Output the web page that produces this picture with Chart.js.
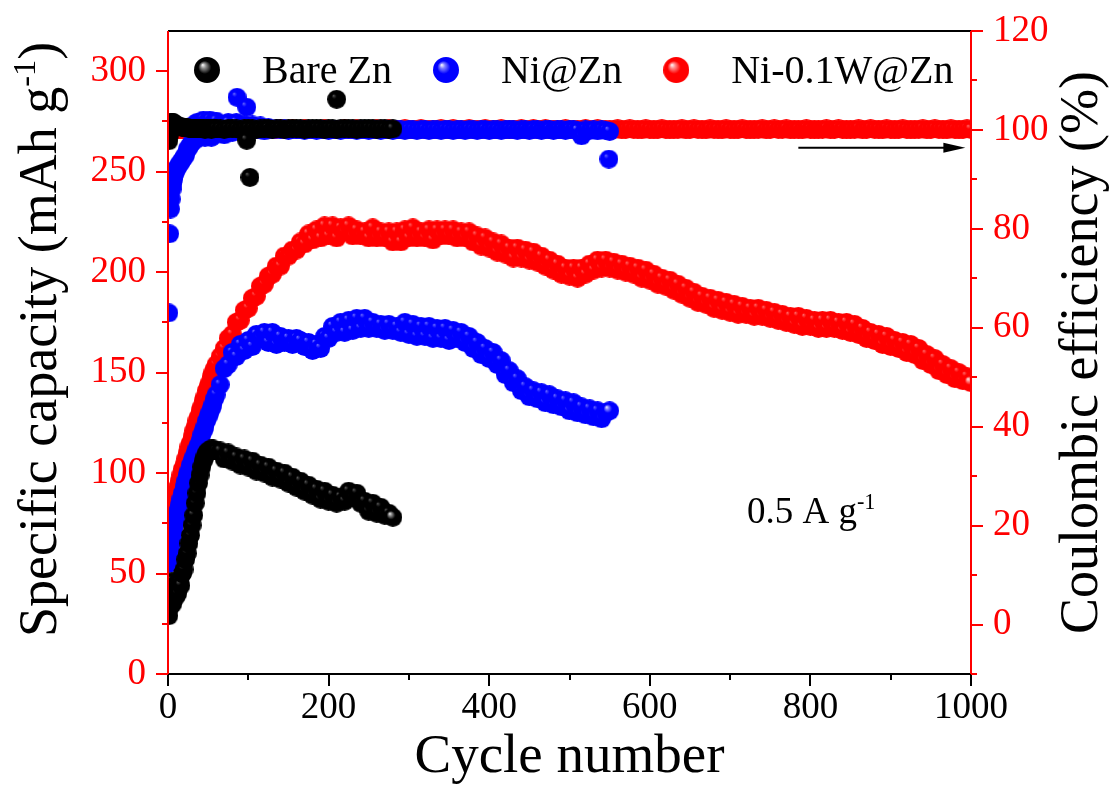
<!DOCTYPE html>
<html>
<head>
<meta charset="utf-8">
<script src="https://cdn.jsdelivr.net/npm/chart.js@4.4.0/dist/chart.umd.min.js"></script>
<style>
  html, body { margin: 0; padding: 0; background: #fff; }
</style>
</head>
<body>
<canvas id="chart" width="1112" height="794"></canvas>
<script>
// ------------------ Data ------------------
const seriesNames = ["Bare Zn", "Ni@Zn", "Ni-0.1W@Zn"];

// shared cycle grid (denser at the start where the curves climb)
const cycles = [
  1,2,3,4,5,6,7,8,9,10,
  12,14,16,18,20,22,24,26,28,30,32,34,36,38,40,42,44,46,48,50,52,54,56,58,60,
  65,70,75,80,85,90,95,100,105,110,115,120,125,130,135,140,145,150,155,160,
  165,170,175,180,185,190,195,200,205,210,215,220,225,230,235,240,245,250,255,260,
  265,270,275,280,285,290,295,300,305,310,315,320,325,330,335,340,345,350,355,360,
  365,370,375,380,385,390,395,400,405,410,415,420,425,430,435,440,445,450,455,460,
  465,470,475,480,485,490,495,500,505,510,515,520,525,530,535,540,545,550,555,560,
  565,570,575,580,585,590,595,600,605,610,615,620,625,630,635,640,645,650,655,660,
  665,670,675,680,685,690,695,700,705,710,715,720,725,730,735,740,745,750,755,760,
  765,770,775,780,785,790,795,800,805,810,815,820,825,830,835,840,845,850,855,860,
  865,870,875,880,885,890,895,900,905,910,915,920,925,930,935,940,945,950,955,960,
  965,970,975,980,985,990,995,1000
];

// specific capacity, mAh g-1 (left axis)
const bareCap = [
  29,33,38,42,46,35,40,44,38,42,
  40,46,44,50,52,57,60,65,69,74,79,85,90,95,99,103,106,108,110,111,111,112,112,111,111,
  111,107,110,106,108,104,107,103,106,101,104,100,103,98,101,97,100,95,98,93,
  96,91,94,89,92,87,91,86,89,85,88,86,91,88,90,85,86,81,85,80,
  83,79,80,78
];
const niCap = [
  55,58,61,64,67,70,72,74,76,78,
  81,84,87,90,93,96,99,101,104,106,108,110,112,114,116,119,121,123,126,128,130,132,134,137,139,
  144,152,154,160,158,164,161,166,163,169,167,170,165,170,164,168,165,167,164,167,
  166,163,165,161,164,162,168,167,173,170,175,170,176,171,177,172,177,172,175,172,
  174,171,174,171,173,170,175,169,174,168,173,168,173,167,172,167,172,166,171,167,
  170,165,168,162,165,159,162,157,160,154,156,149,151,145,147,141,143,138,141,137,
  140,135,139,134,137,133,136,131,135,130,133,129,132,128,131,127,130,131
];
const niWCap = [
  76,78,79,81,82,84,85,87,88,90,
  93,96,99,102,104,107,110,113,115,118,121,123,126,128,131,133,136,138,141,143,145,148,150,152,154,
  158,162,167,169,175,176,181,182,187,188,193,194,198,199,203,203,208,208,211,211,
  215,214,219,216,221,217,223,218,223,217,222,220,223,218,221,218,220,217,222,217,
  220,217,220,215,220,215,221,217,222,217,220,217,221,216,221,218,221,218,221,217,
  220,217,220,215,218,213,217,212,215,210,214,209,212,207,212,207,211,206,210,205,
  208,203,206,201,204,199,202,198,202,197,202,199,204,201,206,202,206,202,205,201,
  204,200,203,199,202,197,201,196,199,194,197,193,196,191,194,189,192,187,190,185,
  188,184,187,182,186,181,185,180,184,179,183,179,182,178,182,178,181,177,180,176,
  179,175,178,174,178,173,177,173,176,172,176,172,176,172,175,171,175,170,174,169,
  172,167,170,166,169,164,168,163,166,162,165,160,164,159,162,156,159,154,157,151,
  154,149,152,147,150,146,148,145
];

// coulombic efficiency, % (right axis)
const bareCE = [
  97.8,99,100.5,101.5,101.6,101.5,101.3,101.2,101,101,
  100.8,100.7,100.6,100.5,100.5,100.4,100.4,100.3,100.3,100.3,100.2,100.2,100.2,100.2,100.2,100.3,100.2,100.1,100.2,100.3,100.2,100.1,100.2,100.2,100.2,
  100.2,100.1,100.3,100.2,100.2,100.1,100.2,100.3,100.2,100.1,100.2,100.2,100.3,100.1,100.2,100.2,100.1,100.2,100.3,100.2,
  100.2,100.1,100.2,100.2,100.3,100.2,100.1,100.2,100.2,100.1,100.2,100.3,100.2,100.2,100.1,100.2,100.2,100.3,100.2,100.1,
  100.2,100.2,100.1,100.2
];
const niCE = [
  63,79,84,86,88,89,90,91,91.5,92,
  92.5,93,93.5,94,94.5,95,96,96.5,97,97.5,101,98,101.5,98.5,101.5,99,102,98.5,101.5,99,102,98.5,101.5,99,101.8,
  101,99,101.5,99.5,101.5,100,101,99.5,101,100,100.8,99.8,100.5,100,100.3,100,100.2,99.9,100.1,100,
  100,99.9,100.1,100,99.9,100,100.1,99.9,100,100,99.9,100,100.1,100,99.9,100,100,99.9,100.1,100,
  99.9,100,100.1,99.9,100,100,99.9,100.1,100,99.9,100,100.1,99.9,100,100,99.9,100.1,100,99.9,100,
  100,99.9,100.1,100,99.9,100,100.1,99.9,100,100,99.9,100,100.1,100,99.9,100,100,99.9,100.1,100,
  99.9,100,100.1,99.9,100,100,99.9,100.1,100,99.9,98.8,100,99.9,100,99.8,100,99.9,99.7
];
const niWCE = [
  99.8,100,100.1,100.2,100.1,100,100.1,100.2,100.1,100,
  100.1,100,100.2,100.1,100,100.1,100.2,100.1,100,100.1,100.2,100.1,100,100.1,100.2,100.1,100,100.1,100.2,100.1,100,100.1,100.2,100.1,100,
  100.1,100,100.2,100.1,100.1,100,100.2,100.1,100,100.1,100.2,100.1,100,100.1,100.1,100.2,100,100.1,100.2,100.1,
  100.1,100.2,100,100.1,100.1,100,100.2,100.1,100,100.1,100.1,100.2,100,100.1,100.2,100.1,100,100.1,100.1,100.2,
  100,100.1,100.2,100.1,100.1,100,100.2,100.1,100,100.1,100.2,100.1,100,100.1,100.1,100.2,100,100.1,100.2,100.1,
  100.1,100,100.2,100.1,100.1,100,100.2,100.1,100,100.1,100.2,100.1,100,100.1,100.1,100.2,100,100.1,100.2,100.1,
  100.1,100.2,100,100.1,100.1,100,100.2,100.1,100,100.1,100.1,100.2,100,100.1,100.2,100.1,100,100.1,100.1,100.2,
  100,100.1,100.2,100.1,100.1,100,100.2,100.1,100,100.1,100.2,100.1,100,100.1,100.1,100.2,100,100.1,100.2,100.1,
  100.1,100,100.2,100.1,100.1,100,100.2,100.1,100,100.1,100.2,100.1,100,100.1,100.1,100.2,100,100.1,100.2,100.1,
  100.1,100.2,100,100.1,100.1,100,100.2,100.1,100,100.1,100.1,100.2,100,100.1,100.2,100.1,100,100.1,100.1,100.2,
  100,100.1,100.2,100.1,100.1,100,100.2,100.1,100,100.1,100.2,100.1,100,100.1,100.1,100.2,100,100.1,100.2,100.1,
  100.1,100,100.2,100.1,100,100.1,100.2,100.1
];

// stray efficiency points
const bareOutCycles = [98, 102, 210];
const bareOutCE = [97.9, 90.4, 106.2];
const niOutCycles = [86, 98, 549];
const niOutCE = [106.6, 104.6, 94.1];

// annotation: arrow toward the right axis, current density label
const arrowCycles = [785, 993];
const arrowCE = 96.4;
const rateCycle = 721;
const rateCap = 75;

// ------------------ Helpers ------------------
const FONT = "'Liberation Serif', 'Times New Roman', serif";
const RED = "#ff0000";
Chart.defaults.font.family = FONT;

// shaded sphere used as point style
function makeBall(body, mid, hi, d, spot) {
  const c = document.createElement("canvas");
  c.width = d; c.height = d;
  const g = c.getContext("2d");
  const r = d / 2;
  const grad = g.createRadialGradient(r * 0.66, r * 0.6, 0, r, r, r);
  grad.addColorStop(0, hi);
  grad.addColorStop(spot * 0.4, mid);
  grad.addColorStop(spot, body);
  grad.addColorStop(1, body);
  g.fillStyle = grad;
  g.beginPath();
  g.arc(r, r, r, 0, Math.PI * 2);
  g.fill();
  return c;
}

// dull balls for the dense bands, bright ones for the last point and legend
const balls = [
  makeBall("#000000", "#303030", "#707070", 19, 0.26),
  makeBall("#0000ff", "#3c3cff", "#8080ff", 19, 0.26),
  makeBall("#ff0000", "#ff3c3c", "#ff8080", 19, 0.26)
];
const endBalls = [
  makeBall("#000000", "#8a8a8a", "#ffffff", 19, 0.45),
  makeBall("#0000ff", "#8080ff", "#ffffff", 19, 0.45),
  makeBall("#ff0000", "#ff8a8a", "#ffffff", 19, 0.45)
];
const legendBalls = [
  makeBall("#000000", "#8a8a8a", "#ffffff", 26, 0.5),
  makeBall("#0000ff", "#8080ff", "#ffffff", 26, 0.5),
  makeBall("#ff0000", "#ff8a8a", "#ffffff", 26, 0.5)
];

function pts(xs, ys) {
  return ys.map((v, i) => ({ x: xs[i], y: v }));
}

// text with one superscript part, parts = [[text, isSup], ...]
function drawRich(ctx, parts, size, x, y, rotate, align) {
  ctx.save();
  ctx.translate(x, y);
  if (rotate) ctx.rotate(-Math.PI / 2);
  const widths = parts.map(p => {
    ctx.font = (p[1] ? size * 0.6 : size) + "px " + FONT;
    return ctx.measureText(p[0]).width;
  });
  const total = widths.reduce((s, w) => s + w, 0);
  let xx = align === "center" ? -total / 2 : 0;
  ctx.textAlign = "left";
  ctx.textBaseline = "alphabetic";
  parts.forEach((p, i) => {
    ctx.font = (p[1] ? size * 0.6 : size) + "px " + FONT;
    ctx.fillText(p[0], xx, p[1] ? -size * 0.38 : 0);
    xx += widths[i];
  });
  ctx.restore();
}

// ------------------ Frame, ticks, legend, titles ------------------
const decor = {
  id: "decor",
  afterDraw(chart) {
    const { ctx, chartArea: a, scales } = chart;
    const xs = scales.x, ys = scales.y, ys2 = scales.y2;
    ctx.save();
    ctx.lineWidth = 2;

    // tick marks (major long, minor short, outward)
    ctx.strokeStyle = "#000";
    xs.ticks.forEach(t => {
      const px = Math.round(xs.getPixelForValue(t.value));
      const len = t.value % 200 === 0 ? 12 : 6;
      ctx.beginPath(); ctx.moveTo(px, a.bottom); ctx.lineTo(px, a.bottom + len); ctx.stroke();
    });
    ctx.strokeStyle = RED;
    ys.ticks.forEach(t => {
      const py = Math.round(ys.getPixelForValue(t.value));
      const len = t.value % 50 === 0 ? 12 : 6;
      ctx.beginPath(); ctx.moveTo(a.left - len, py); ctx.lineTo(a.left, py); ctx.stroke();
    });
    ys2.ticks.forEach(t => {
      const py = Math.round(ys2.getPixelForValue(t.value));
      const len = (t.value >= 0 && t.value % 20 === 0) ? 12 : 6;
      ctx.beginPath(); ctx.moveTo(a.right, py); ctx.lineTo(a.right + len, py); ctx.stroke();
    });

    // frame
    ctx.strokeStyle = "#000";
    ctx.beginPath(); ctx.moveTo(a.left, a.top); ctx.lineTo(a.right, a.top); ctx.stroke();
    ctx.beginPath(); ctx.moveTo(a.left, a.bottom); ctx.lineTo(a.right, a.bottom); ctx.stroke();
    ctx.strokeStyle = RED;
    ctx.beginPath(); ctx.moveTo(a.left, a.top); ctx.lineTo(a.left, a.bottom); ctx.stroke();
    ctx.beginPath(); ctx.moveTo(a.right, a.top); ctx.lineTo(a.right, a.bottom); ctx.stroke();

    // arrow pointing at the efficiency axis
    const ax0 = xs.getPixelForValue(arrowCycles[0]);
    const ax1 = xs.getPixelForValue(arrowCycles[1]);
    const ay = ys2.getPixelForValue(arrowCE);
    ctx.strokeStyle = "#000";
    ctx.fillStyle = "#000";
    ctx.beginPath(); ctx.moveTo(ax0, ay); ctx.lineTo(ax1 - 16, ay); ctx.stroke();
    ctx.beginPath();
    ctx.moveTo(ax1, ay);
    ctx.lineTo(ax1 - 22, ay - 5);
    ctx.lineTo(ax1 - 22, ay + 5);
    ctx.closePath();
    ctx.fill();

    // current density label
    drawRich(ctx, [["0.5 A g", false], ["-1", true]], 37,
      xs.getPixelForValue(rateCycle), ys.getPixelForValue(rateCap), false, "left");

    // legend inside the plot
    ctx.font = "40px " + FONT;
    ctx.textBaseline = "alphabetic";
    ctx.textAlign = "left";
    let lx = a.left + 39;
    const ly = a.top + 39;
    seriesNames.forEach((name, i) => {
      const b = legendBalls[i];
      ctx.drawImage(b, lx - b.width / 2, ly - b.height / 2);
      const tx = lx + 55;
      ctx.fillStyle = "#000";
      ctx.fillText(name, tx, a.top + 52);
      lx = tx + ctx.measureText(name).width + 54;
    });

    // y axis titles (both read bottom to top)
    ctx.fillStyle = "#000";
    const mid = (a.top + a.bottom) / 2;
    drawRich(ctx, [["Specific capacity (mAh g", false], ["-1", true], [")", false]], 54, 56, mid - 13, true, "center");
    drawRich(ctx, [["Coulombic efficiency (%)", false]], 54, 1097, mid, true, "center");
    ctx.restore();
  }
};

// ------------------ Chart ------------------
function capSet(i, values) {
  return {
    label: seriesNames[i], data: pts(cycles, values), yAxisID: "y",
    pointStyle: c => (c.dataIndex === values.length - 1 ? endBalls[i] : balls[i]),
    pointRadius: 9.5, showLine: false, clip: 0
  };
}
function ceSet(i, values, outX, outY) {
  return {
    label: seriesNames[i] + " CE", data: pts(cycles, values).concat(pts(outX, outY)), yAxisID: "y2",
    pointStyle: balls[i], pointRadius: 9.5, showLine: false, clip: 0
  };
}

const tickFont = { family: FONT, size: 37 };

new Chart(document.getElementById("chart"), {
  type: "scatter",
  data: {
    datasets: [
      capSet(0, bareCap),
      ceSet(0, bareCE, bareOutCycles, bareOutCE),
      capSet(1, niCap),
      ceSet(1, niCE, niOutCycles, niOutCE),
      capSet(2, niWCap),
      ceSet(2, niWCE, [], [])
    ]
  },
  options: {
    responsive: false,
    animation: false,
    events: [],
    layout: { padding: { top: 31, left: 0, right: 0, bottom: 0 } },
    plugins: { legend: { display: false }, tooltip: { enabled: false } },
    scales: {
      x: {
        type: "linear", position: "bottom", min: 0, max: 1000,
        ticks: {
          stepSize: 100, color: "#000", font: tickFont, padding: 12,
          maxRotation: 0, autoSkip: false,
          callback: v => (v % 200 === 0 ? v : "")
        },
        grid: { display: false, drawTicks: false },
        border: { display: false },
        title: { display: true, text: "Cycle number", color: "#000", font: { family: FONT, size: 55 }, padding: { top: 0, bottom: 3 } },
        afterFit: s => { s.height = 120; s.paddingLeft = 0; s.paddingRight = 0; }
      },
      y: {
        type: "linear", position: "left", min: 0, max: 320,
        ticks: {
          stepSize: 25, includeBounds: false, color: RED, font: tickFont, padding: 22,
          callback: v => (v % 50 === 0 ? v : "")
        },
        grid: { display: false, drawTicks: false },
        border: { display: false },
        afterFit: s => { s.width = 168; s.paddingTop = 0; s.paddingBottom = 0; }
      },
      y2: {
        type: "linear", position: "right", min: -10, max: 120,
        ticks: {
          stepSize: 10, includeBounds: false, color: RED, font: tickFont, padding: 22,
          callback: v => (v >= 0 && Math.round(v) % 20 === 0 ? v : "")
        },
        grid: { display: false, drawTicks: false },
        border: { display: false },
        afterFit: s => { s.width = 141; s.paddingTop = 0; s.paddingBottom = 0; }
      }
    }
  },
  plugins: [decor]
});
</script>
</body>
</html>
